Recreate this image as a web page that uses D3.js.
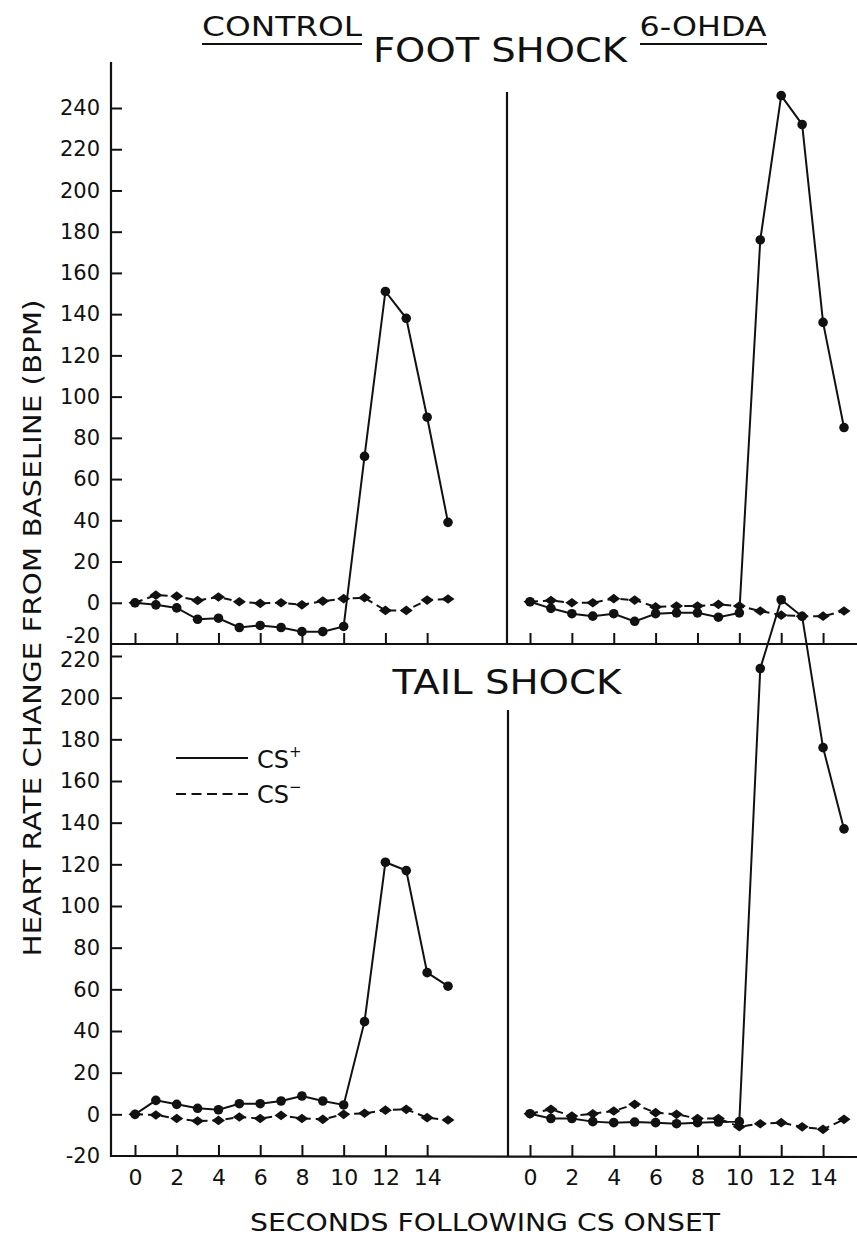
<!DOCTYPE html>
<html><head><meta charset="utf-8">
<script src="https://cdn.jsdelivr.net/npm/d3@7"></script>
<style>
html,body{margin:0;padding:0;background:#fff;}
svg{display:block;}
text{font-family:"DejaVu Sans",sans-serif;fill:#111;}
</style></head>
<body>
<svg id="chart" width="857" height="1237"></svg>
<script>
// ---- data ----
const seconds = [0,1,2,3,4,5,6,7,8,9,10,11,12,13,14,15];
const xTickValues = [0,2,4,6,8,10,12,14];
const yTicksTop = [-20,0,20,40,60,80,100,120,140,160,180,200,220,240];
const yTicksBottom = [-20,0,20,40,60,80,100,120,140,160,180,200,220];

const controlFootPlus  = [0,-1,-2.5,-8,-7.5,-12,-11,-12,-14,-14,-11.5,71,151,138,90,39];
const controlFootMinus = [0,3.7,3.2,1.1,2.8,0.5,-0.3,0,-1,0.8,2,2.4,-3.7,-3.7,1.3,1.8];
const ohdaFootPlus     = [0.5,-2.7,-5.3,-6.5,-5.3,-9,-5.3,-4.9,-4.9,-7,-4.9,176,246,232,136,85];
const ohdaFootMinus    = [0.5,1.1,0,0,2,1.3,-2,-1.6,-1.6,-0.8,-1.6,-4,-6,-6.5,-6.5,-4];
const controlTailPlus  = [0,6.7,4.8,2.9,2.2,5.1,5.1,6.4,8.8,6.4,4.5,44.5,121,117,68,61.5];
const controlTailMinus = [0,-0.3,-2,-3.2,-2.9,-1.3,-2,-0.5,-2,-2.4,0,0.5,2,2.4,-1.6,-2.7];
const ohdaTailPlus     = [0.3,-2,-2,-3.5,-4,-3.7,-4,-4.5,-4,-3.7,-3.5,214,247,239,176,137];
const ohdaTailMinus    = [0.3,2.4,-0.8,0.3,1.6,4.8,0.8,0,-2,-2,-5.9,-4.5,-4,-6,-7.2,-2.4];

const groupLabels = ["CONTROL","6-OHDA"];
const panelTitles = ["FOOT SHOCK","TAIL SHOCK"];
const yTitle = "HEART RATE CHANGE FROM BASELINE (BPM)";
const xTitle = "SECONDS FOLLOWING CS ONSET";

// ---- layout ----
const svg = d3.select("#chart");
const INK = "#111";
const axisX = 111;
const xLeft = d3.scaleLinear().domain([0,15]).range([135, 448]);
const xRight = d3.scaleLinear().domain([0,15]).range([530, 844]);
const yTop = d3.scaleLinear().domain([-20,240]).range([644,108]);
const yBot = d3.scaleLinear().domain([-20,220]).range([1156,656]);
const fmt = d => String(d);

// frame lines
function line(x1,y1,x2,y2,w){
  svg.append("line").attr("x1",x1).attr("y1",y1).attr("x2",x2).attr("y2",y2)
    .attr("stroke",INK).attr("stroke-width",w||2.2);
}
line(axisX,62,axisX,1157);
line(axisX,644,857,644);
line(axisX,1156,857,1157);
line(507,92,507,644);
line(508,710,508,1156);

// y axes
function yAxis(scale, ticks){
  const g = svg.append("g").attr("transform",`translate(${axisX},0)`)
    .call(d3.axisLeft(scale).tickValues(ticks).tickFormat(fmt)
      .tickSizeInner(-11).tickSizeOuter(0).tickPadding(11));
  g.select(".domain").remove();
  g.selectAll(".tick line").attr("stroke",INK).attr("stroke-width",2);
  g.selectAll(".tick").filter(d=>d===-20).select("line").remove();
  g.selectAll(".tick text").attr("font-size",21).attr("font-family","DejaVu Sans").attr("fill",INK);
  return g;
}
const gTop = yAxis(yTop, yTicksTop);
const gBot = yAxis(yBot, yTicksBottom);
// keep the crowded -20 / 220 pair apart, as in the original
gTop.selectAll(".tick").filter(d=>d===-20).select("text").attr("dy","-0.05em");
gBot.selectAll(".tick").filter(d=>d===220).select("text").attr("dy","0.5em");

// x axes
function xAxis(scale, yPos, labels){
  const g = svg.append("g").attr("transform",`translate(0,${yPos})`)
    .call(d3.axisBottom(scale).tickValues(xTickValues).tickFormat(fmt)
      .tickSizeInner(-11).tickSizeOuter(0).tickPadding(13));
  g.select(".domain").remove();
  g.selectAll(".tick line").attr("stroke",INK).attr("stroke-width",2);
  if(!labels) g.selectAll(".tick text").remove();
  else g.selectAll(".tick text").attr("font-size",22).attr("font-family","DejaVu Sans").attr("fill",INK);
}
xAxis(xLeft,644,false);
xAxis(xRight,644,false);
xAxis(xLeft,1156,true);
xAxis(xRight,1156,true);

// series
const diamond = "M-6.5,0L0,-4.8L6.5,0L0,4.8Z";
function series(xs, ys, vals, dashed){
  const pts = seconds.map((s,i)=>[xs(s), ys(vals[i])]);
  svg.append("path").attr("d", d3.line()(pts)).attr("fill","none")
    .attr("stroke",INK).attr("stroke-width",2)
    .attr("stroke-dasharray", dashed ? "8,5" : null);
  if(dashed){
    svg.append("g").selectAll("path").data(pts).join("path")
      .attr("d",diamond).attr("transform",d=>`translate(${d[0]},${d[1]})`).attr("fill",INK);
  } else {
    svg.append("g").selectAll("circle").data(pts).join("circle")
      .attr("cx",d=>d[0]).attr("cy",d=>d[1]).attr("r",4.8).attr("fill",INK);
  }
}
series(xLeft, yTop, controlFootMinus, true);
series(xLeft, yTop, controlFootPlus, false);
series(xRight, yTop, ohdaFootMinus, true);
series(xRight, yTop, ohdaFootPlus, false);
series(xLeft, yBot, controlTailMinus, true);
series(xLeft, yBot, controlTailPlus, false);
series(xRight, yBot, ohdaTailMinus, true);
series(xRight, yBot, ohdaTailPlus, false);

// text helpers
function label(txt, x, y, size, len, anchor){
  const t = svg.append("text").attr("x",x).attr("y",y).attr("font-size",size)
    .attr("text-anchor",anchor||"middle").text(txt);
  if(len) t.attr("textLength",len).attr("lengthAdjust","spacingAndGlyphs");
  return t;
}
// group headers (underlined)
label(groupLabels[0], 282, 36, 26, 160);
line(202,44,362,44,2);
label(groupLabels[1], 703, 36, 26, 127);
line(640,44,767,44,2);
// panel titles
label(panelTitles[0], 500, 62, 33, 254);
label(panelTitles[1], 507, 694, 33, 229);
// axis titles
svg.append("text").attr("transform","translate(41,628) rotate(-90)")
  .attr("text-anchor","middle").attr("font-size",24)
  .attr("textLength",657).attr("lengthAdjust","spacingAndGlyphs").text(yTitle);
label(xTitle, 485, 1231, 24, 470);

// legend
line(176,758,248,758,2);
svg.append("line").attr("x1",176).attr("y1",794).attr("x2",248).attr("y2",794)
  .attr("stroke",INK).attr("stroke-width",2).attr("stroke-dasharray","10,5.5");
const lg1 = svg.append("text").attr("x",257).attr("y",768).attr("font-size",24);
lg1.append("tspan").text("CS");
lg1.append("tspan").attr("font-size",15).attr("dy",-11).text("+");
const lg2 = svg.append("text").attr("x",257).attr("y",803).attr("font-size",24);
lg2.append("tspan").text("CS");
lg2.append("tspan").attr("font-size",15).attr("dy",-11).text("\u2212");
</script>
</body></html>
